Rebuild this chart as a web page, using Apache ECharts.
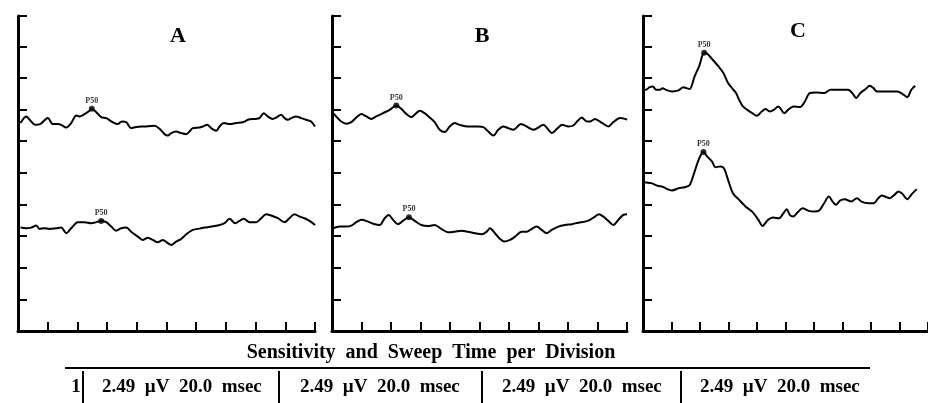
<!DOCTYPE html>
<html>
<head>
<meta charset="utf-8">
<script src="https://cdn.jsdelivr.net/npm/echarts/dist/echarts.min.js"></script>
<style>
  html, body { margin: 0; padding: 0; background: #fff; }
  #main { width: 928px; height: 403px; }
</style>
</head>
<body>
<div id="main"></div>
<script>
// PERG traces, x = msec, y = µV (2.49 µV / 20 msec per division)
var panelNames = ['A', 'B', 'C'];
var sweepTicks = [0, 20, 40, 60, 80, 100, 120, 140, 160, 180, 200];
var uvPerDiv = 2.49;
var sensitivityRow = ['2.49  µV  20.0  msec', '2.49  µV  20.0  msec', '2.49  µV  20.0  msec', '2.49  µV  20.0  msec'];

var traceATop = [[1.7,16.37],[5.5,16.89],[8.9,16.49],[11.6,16.23],[15.2,16.31],[20.1,16.76],[23.4,16.29],[26.8,16.29],[29.1,16.23],[32.5,16.02],[35.8,16.37],[39.2,16.97],[41.4,16.89],[44.8,17.08],[47.5,17.28],[49.7,17.49],[52.7,17.23],[56.0,16.84],[59.4,16.76],[63.8,16.44],[67.2,16.29],[69.9,16.49],[72.9,16.44],[76.2,15.97],[79.6,16.07],[85.2,16.10],[91.9,16.15],[95.3,15.92],[98.7,15.50],[100.9,15.39],[103.2,15.58],[106.5,15.70],[109.9,15.58],[113.3,15.50],[115.5,15.70],[117.7,15.97],[122.2,16.02],[124.4,16.10],[127.4,16.23],[130.1,15.97],[133.5,15.76],[135.7,16.10],[138.6,16.37],[142.4,16.29],[146.9,16.37],[151.4,16.44],[155.9,16.68],[160.4,16.70],[162.6,16.76],[165.5,17.15],[168.2,16.89],[171.6,16.70],[173.9,16.81],[177.2,17.02],[179.5,16.76],[181.7,16.63],[184.0,16.76],[187.3,16.89],[190.7,16.76],[194.1,16.63],[197.4,16.49],[200,16.10]];
var traceABottom = [[1.7,8.14],[5.5,8.09],[8.9,8.14],[12.3,8.30],[14.5,8.04],[17.8,8.09],[21.2,8.04],[25.7,8.09],[29.1,8.14],[32.5,7.70],[35.8,8.09],[40.3,8.57],[44.8,8.57],[49.3,8.49],[52.7,8.57],[56.0,8.67],[59.4,8.57],[62.8,8.22],[66.1,7.90],[69.5,8.09],[72.9,8.14],[76.2,7.82],[80.7,7.43],[84.0,7.17],[87.4,7.35],[90.8,7.17],[94.1,6.99],[97.5,7.17],[100.9,6.91],[103.2,6.78],[106.5,7.04],[109.9,7.25],[113.3,7.62],[117.7,7.96],[121.1,8.04],[125.6,8.14],[130.1,8.22],[134.5,8.30],[139.1,8.49],[142.4,8.83],[146.3,8.49],[149.2,8.67],[152.1,8.83],[155.9,8.57],[160.4,8.57],[163.8,8.88],[167.1,9.20],[170.5,9.09],[175.0,8.88],[179.5,8.57],[182.8,8.88],[186.2,9.20],[189.6,9.01],[192.9,8.88],[196.3,8.67],[200,8.35]];
var traceBTop = [[0.7,17.15],[2.9,16.89],[6.3,16.49],[9.7,16.31],[13.1,16.44],[16.5,16.81],[19.9,17.08],[23.3,16.89],[26.6,16.70],[30.0,16.89],[34.6,17.15],[39.1,17.41],[43.6,17.75],[47.0,17.49],[50.4,17.08],[53.8,16.84],[56.5,17.08],[59.5,17.34],[62.8,17.15],[66.2,16.81],[69.6,16.44],[73.0,15.84],[76.4,15.66],[79.8,16.10],[83.2,16.37],[86.6,16.23],[92.2,16.10],[99.0,16.10],[102.6,16.05],[106.0,15.70],[109.4,15.39],[112.7,15.84],[116.1,16.10],[119.5,15.97],[122.9,15.84],[128.1,16.29],[132.0,16.10],[136.5,15.84],[139.9,16.02],[143.3,16.23],[146.2,15.92],[149.0,15.58],[153.0,15.97],[156.1,16.23],[160.2,16.10],[163.6,16.18],[166.6,16.55],[169.3,16.81],[172.7,16.49],[174.9,16.49],[178.3,16.70],[181.7,16.49],[185.1,16.23],[187.3,16.10],[190.7,16.44],[195.3,16.76],[198.7,16.70],[200,16.63]];
var traceBBottom = [[0.7,8.09],[5.2,8.22],[9.7,8.22],[13.1,8.30],[16.5,8.57],[19.9,8.75],[24.4,8.61],[29.0,8.41],[32.3,8.35],[35.7,8.88],[38.4,9.14],[41.4,8.75],[44.7,8.41],[48.1,8.67],[52.2,8.96],[56.1,8.67],[60.5,8.35],[65.1,8.27],[69.6,8.35],[74.1,8.04],[78.6,7.78],[83.2,7.82],[87.7,7.90],[92.2,7.82],[97.0,7.70],[101.5,7.62],[104.9,7.82],[107.1,8.09],[110.5,7.70],[113.9,7.25],[116.8,7.04],[120.7,7.17],[124.1,7.43],[128.6,7.82],[132.0,7.82],[135.4,8.04],[138.8,8.22],[142.2,7.96],[145.6,7.70],[149.0,7.96],[153.4,8.22],[158.0,8.35],[162.5,8.41],[167.0,8.53],[171.5,8.61],[174.9,8.75],[178.3,9.01],[181.0,9.20],[183.9,9.01],[187.3,8.67],[190.7,8.35],[194.1,8.75],[197.5,9.14],[200,9.20]];
var traceCTop = [[0.5,18.99],[2.0,18.99],[4.7,19.20],[6.9,19.25],[9.2,18.99],[11.9,18.99],[13.7,19.12],[16.0,18.99],[20.4,18.86],[24.9,18.94],[28.3,19.20],[30.5,19.12],[32.8,19.05],[36.2,20.04],[39.5,20.88],[42.9,21.91],[45.1,21.83],[48.5,21.41],[53.0,20.83],[56.4,20.31],[59.7,19.52],[63.1,19.05],[65.3,18.73],[67.5,18.20],[69.8,17.73],[73.2,17.41],[76.6,17.15],[79.9,16.94],[83.3,17.28],[86.0,17.47],[88.9,17.28],[91.8,17.41],[94.9,17.67],[96.3,17.55],[99.0,17.15],[102.4,17.47],[105.7,17.67],[110.2,17.63],[113.6,18.07],[117.0,18.73],[121.4,18.78],[127.1,18.73],[131.5,18.99],[137.2,18.99],[143.9,18.99],[147.3,18.67],[149.5,18.34],[152.9,18.78],[156.3,19.05],[159.1,19.31],[161.8,19.12],[164.1,18.86],[170.8,18.86],[178.7,18.86],[182.0,18.67],[185.4,18.41],[188.3,18.99],[191.0,19.31]];
var traceCBottom = [[0.5,11.72],[2.0,11.69],[5.9,11.64],[10.3,11.43],[13.7,11.37],[17.0,11.17],[20.4,11.06],[24.9,11.24],[29.4,11.32],[32.8,11.50],[36.2,12.55],[39.5,13.61],[42.4,14.10],[45.1,13.73],[48.5,13.34],[50.7,12.90],[54.1,12.95],[56.8,12.82],[59.7,11.90],[63.1,10.85],[67.5,10.32],[72.1,9.79],[76.6,9.40],[81.0,8.75],[83.8,8.27],[87.7,8.75],[91.1,8.93],[95.6,8.88],[98.5,9.27],[100.8,9.59],[103.0,9.14],[105.3,9.01],[108.4,9.32],[112.0,9.67],[115.8,9.48],[120.3,9.40],[123.7,9.48],[127.1,10.06],[130.4,10.58],[133.1,10.19],[135.4,9.93],[138.2,10.27],[141.6,10.38],[146.1,10.19],[150.2,10.46],[153.3,10.19],[158.4,10.06],[161.8,10.06],[165.2,10.46],[167.5,10.66],[170.8,10.54],[173.1,10.46],[176.4,10.72],[179.3,10.98],[182.0,10.80],[185.4,10.38],[188.8,10.80],[192.1,11.17]];

// index of the P50 peak in each trace
var p50Index = { ATop: 15, ABottom: 15, BTop: 12, BBottom: 14, CTop: 15, CBottom: 12 };

var chartDom = document.getElementById('main');
var myChart = echarts.init(chartDom, null, { renderer: 'canvas' });

var grids = [
  { left: 18, top: 16, width: 297, height: 315 },
  { left: 332, top: 16, width: 295, height: 315 },
  { left: 643, top: 16, width: 297, height: 315 }
];

var axisLine = { show: true, onZero: false, lineStyle: { color: '#000', width: 3 } };
var axisTick = { show: true, inside: true, length: 9, lineStyle: { color: '#000', width: 2 } };

var xAxes = [], yAxes = [];
for (var i = 0; i < 3; i++) {
  xAxes.push({
    type: 'value', gridIndex: i, min: sweepTicks[0], max: sweepTicks[sweepTicks.length - 1],
    interval: sweepTicks[1] - sweepTicks[0],
    axisLine: axisLine, axisTick: axisTick, axisLabel: { show: false }, splitLine: { show: false }
  });
  yAxes.push({
    type: 'value', gridIndex: i, min: 0, max: 24.8, interval: uvPerDiv,
    axisLine: axisLine, axisTick: axisTick, axisLabel: { show: false }, splitLine: { show: false }
  });
}

function trace(data, idx) {
  return {
    type: 'line', xAxisIndex: idx, yAxisIndex: idx, data: data,
    showSymbol: false, smooth: 0.3, silent: true, animation: false,
    lineStyle: { color: '#000', width: 2 }
  };
}
function p50(points, idx) {
  return {
    type: 'scatter', xAxisIndex: idx, yAxisIndex: idx, data: points,
    symbol: 'circle', symbolSize: 6, itemStyle: { color: '#000' }, animation: false,
    label: { show: true, position: 'top', distance: 1, formatter: 'P50',
      fontFamily: 'Liberation Serif', fontWeight: 'bold', fontSize: 8, color: '#000' }
  };
}

var series = [
  trace(traceATop, 0), trace(traceABottom, 0),
  p50([traceATop[p50Index.ATop], traceABottom[p50Index.ABottom]], 0),
  trace(traceBTop, 1), trace(traceBBottom, 1),
  p50([traceBTop[p50Index.BTop], traceBBottom[p50Index.BBottom]], 1),
  trace(traceCTop, 2), trace(traceCBottom, 2),
  p50([traceCTop[p50Index.CTop], traceCBottom[p50Index.CBottom]], 2)
];

var serif = '"Liberation Serif", "DejaVu Serif", serif';
function txt(s, x, y, size, align) {
  return { type: 'text', x: x, y: y, silent: true,
    style: { text: s, font: 'bold ' + size + 'px ' + serif, fill: '#000',
      textAlign: align || 'center', align: align || 'center',
      textVerticalAlign: 'middle', verticalAlign: 'middle' } };
}
function seg(x1, y1, x2, y2) {
  return { type: 'line', silent: true, shape: { x1: x1, y1: y1, x2: x2, y2: y2 },
    style: { stroke: '#000', lineWidth: 2 } };
}

var graphic = [
  txt(panelNames[0], 178, 36, 22), txt(panelNames[1], 482, 36, 22), txt(panelNames[2], 798, 31, 22),
  txt('Sensitivity  and  Sweep  Time  per  Division', 431, 353, 20),
  seg(65, 368, 870, 368),
  txt('1', 76, 387, 19),
  seg(83, 371, 83, 403), seg(279, 371, 279, 403), seg(482, 371, 482, 403), seg(681, 371, 681, 403),
  txt(sensitivityRow[0], 102, 387, 19, 'left'),
  txt(sensitivityRow[1], 300, 387, 19, 'left'),
  txt(sensitivityRow[2], 502, 387, 19, 'left'),
  txt(sensitivityRow[3], 700, 387, 19, 'left')
];

var option = {
  backgroundColor: '#fff',
  animation: false,
  grid: grids,
  xAxis: xAxes,
  yAxis: yAxes,
  series: series,
  graphic: graphic
};
option && myChart.setOption(option);
</script>
</body>
</html>
